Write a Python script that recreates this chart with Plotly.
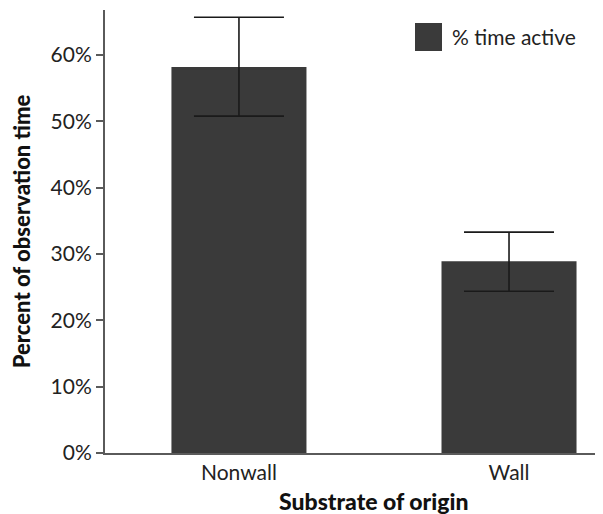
import plotly.graph_objects as go

categories = ["Nonwall", "Wall"]
values = [58.2, 28.9]
err_plus = [7.5, 4.4]
err_minus = [7.4, 4.5]
tick_vals = [0, 10, 20, 30, 40, 50, 60]
tick_text = ["0%", "10%", "20%", "30%", "40%", "50%", "60%"]
series_name = "% time active"
x_title = "Substrate of origin"
y_title = "Percent of observation time"

BAR = "#3a3a3a"
AX = "#5a5a5a"
FONT = "Lato"

# page body has an 8px margin, so the figure is offset by (8, 8)
W, H = 595, 506
L, T, B, R = 97, 2, 61, 0
PW, PH = W - L - R, H - T - B


def px_to_paper(x, y):
    return (x - 8 - L) / PW, 1 - (y - 8 - T) / PH


fig = go.Figure()
fig.add_trace(go.Bar(
    x=categories, y=values, name=series_name, width=0.5,
    marker=dict(color=BAR, line=dict(width=0)),
    error_y=dict(type="data", symmetric=False, array=err_plus, arrayminus=err_minus,
                 color="#1a1a1a", thickness=1.6, width=45),
    showlegend=False,
))

lx0, ly0 = px_to_paper(415, 51)
lx1, ly1 = px_to_paper(442, 23)
fig.add_shape(type="rect", xref="paper", yref="paper",
              x0=lx0, x1=lx1, y0=ly0, y1=ly1, fillcolor=BAR, line=dict(width=0))
tx, ty = px_to_paper(450, 37)
fig.add_annotation(text=series_name, xref="paper", yref="paper",
                   x=tx, y=ty, xanchor="left", yanchor="middle",
                   showarrow=False, font=dict(family=FONT, size=21, color="#222"))

title_font = dict(family=FONT, size=22, color="#111", weight=900)

xtx, xty = px_to_paper(373.5, 501)
fig.add_annotation(text=x_title, xref="paper", yref="paper",
                   x=xtx, y=xty, xanchor="center", yanchor="middle",
                   showarrow=False, font=dict(family=FONT, size=23, color="#111", weight=900))

fig.update_layout(
    width=W, height=H,
    margin=dict(l=L, r=R, t=T, b=B),
    plot_bgcolor="white", paper_bgcolor="white",
    font=dict(family=FONT, size=21, color="#222"),
    xaxis=dict(range=[-0.496, 1.348], showline=True, linecolor=AX, linewidth=2,
               ticks="", showgrid=False, zeroline=False,
               tickfont=dict(size=21)),
    yaxis=dict(range=[0, 66.8], tickvals=tick_vals, ticktext=tick_text,
               showline=True, linecolor=AX, linewidth=2, ticks="outside", ticklen=7,
               tickcolor=AX, tickwidth=1.5, showgrid=False, zeroline=False,
               title=dict(text=y_title, font=title_font, standoff=18),
               tickfont=dict(size=21)),
)

fig.write_html("out.html")
